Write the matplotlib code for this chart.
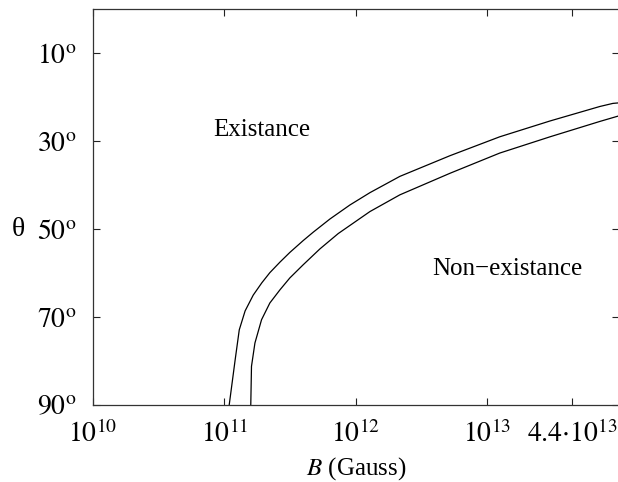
import matplotlib
matplotlib.use("Agg")
import matplotlib.pyplot as plt

plt.rcParams["font.family"] = ["Liberation Serif", "DejaVu Serif"]
plt.rcParams["mathtext.fontset"] = "stix"

# Boundary curves: magnetic field B (Gauss) versus angle theta (degrees)
b_outer = [1.09e11, 1.21e11, 1.30e11, 1.44e11, 1.66e11, 1.93e11, 2.22e11,
           2.65e11, 3.15e11, 3.98e11, 4.74e11, 6.35e11, 9.02e11, 1.28e12,
           2.16e12, 5.19e12, 1.24e13, 2.99e13, 7.16e13, 8.99e13, 9.82e13]
theta_outer = [90.0, 79.7, 72.9, 68.6, 65.0, 62.2, 59.9,
               57.5, 55.3, 52.6, 50.7, 47.7, 44.5, 41.7,
               38.0, 33.3, 29.0, 25.4, 22.1, 21.4, 21.3]

b_inner = [1.59e11, 1.61e11, 1.71e11, 1.92e11, 2.22e11, 2.65e11, 3.15e11,
           3.98e11, 5.33e11, 7.35e11, 1.28e12, 2.16e12, 5.19e12, 1.24e13,
           2.99e13, 7.16e13, 9.82e13]
theta_inner = [90.0, 81.2, 75.9, 70.6, 66.8, 63.8, 61.1,
               58.1, 54.5, 51.0, 46.0, 42.2, 37.3, 32.7,
               29.0, 25.5, 24.3]

x_ticks = [1e10, 1e11, 1e12, 1e13, 4.4e13]
x_tick_labels = [r"$10^{10}$", r"$10^{11}$", r"$10^{12}$", r"$10^{13}$",
                 r"$4.4{\cdot}10^{13}$"]
y_ticks = [10, 30, 50, 70, 90]
y_tick_labels = [r"$%d^{\mathrm{o}}$" % t for t in y_ticks]

W, H = 618, 482
fig = plt.figure(figsize=(W / 100, H / 100), dpi=100)
left, right, top, bottom = 92.7, 619.0, 9.3, 405.0
ax = fig.add_axes([left / W, 1 - bottom / H, (right - left) / W, (bottom - top) / H])

ax.plot(b_outer, theta_outer, color="black", lw=0.9, solid_joinstyle="round")
ax.plot(b_inner, theta_inner, color="black", lw=0.9, solid_joinstyle="round")

ax.set_xscale("log")
ax.set_xlim(1e10, 1e14)
ax.set_ylim(90, 0)

ax.set_xticks(x_ticks)
ax.set_xticklabels(x_tick_labels, fontsize=20)
ax.xaxis.set_minor_locator(matplotlib.ticker.NullLocator())
ax.set_yticks(y_ticks)
ax.set_yticklabels(y_tick_labels, fontsize=20)

ax.tick_params(axis="both", which="major", direction="in", length=5, width=0.8,
               top=True, right=True, color="#222222")
ax.tick_params(axis="x", pad=11)
ax.tick_params(axis="y", pad=12)

for name, sp in ax.spines.items():
    sp.set_linewidth(0.9)
    sp.set_color("#333333")
ax.spines["right"].set_visible(False)

ax.set_xlabel(r"$B$ (Gauss)", fontsize=18, labelpad=5)
fig.text(18 / W, 1 - 229 / H, "θ", fontsize=20, ha="center", va="center")

ax.text(8.2e10, 27.4, "Existance", fontsize=18, ha="left", va="center")
ax.text(3.78e12, 59.0, "Non\u2212existance", fontsize=18, ha="left", va="center")

fig.savefig("out.png", dpi=100)
